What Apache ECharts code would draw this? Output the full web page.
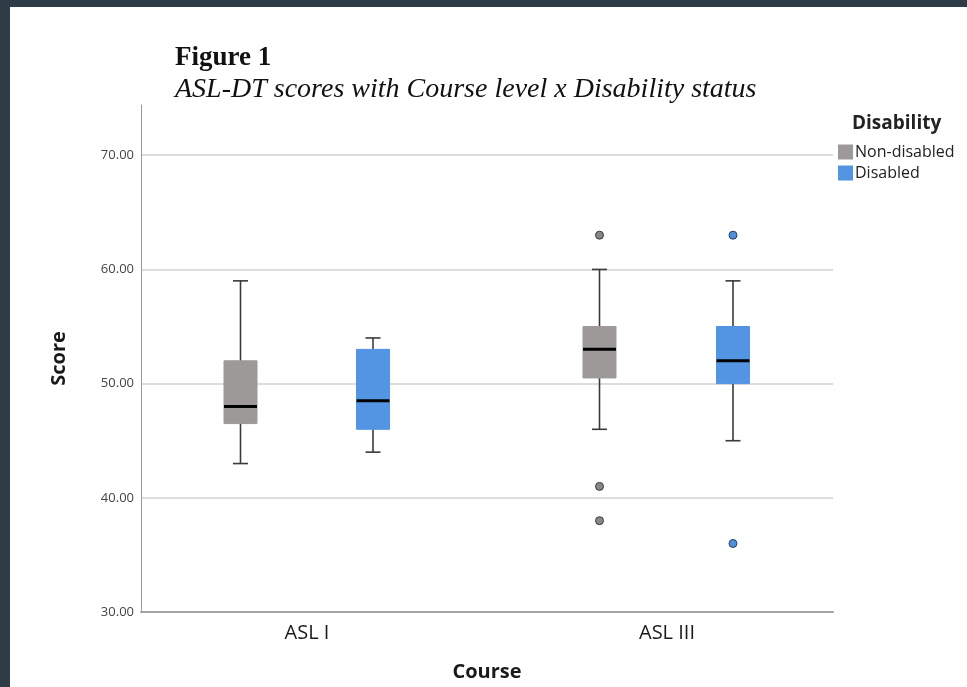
<!DOCTYPE html>
<html><head><meta charset="utf-8">
<script src="https://cdn.jsdelivr.net/npm/echarts@6/dist/echarts.min.js"></script>
<style>html,body{margin:0;padding:0;background:#fff;}#main{width:967px;height:687px;}</style>
</head><body><div id="main"></div>
<script>
// ---- data ----
const courses = ['ASL I', 'ASL III'];
const yTicks = [30, 40, 50, 60, 70];
// [min, Q1, median, Q3, max] per course
const nonDisabledStats = [[43, 46.5, 48, 52, 59], [46, 50.5, 53, 55, 60]];
const disabledStats = [[44, 46, 48.5, 53, 54], [45, 50, 52, 55, 59]];
// outliers: [courseIndex, value]
const nonDisabledOutliers = [[1, 63], [1, 41], [1, 38]];
const disabledOutliers = [[1, 63], [1, 36]];

const GRAY = '#9e9999', BLUE = '#5394e3';
const yMin = 30, yMax = 74.4;
const sans = '"Open Sans", "DejaVu Sans", sans-serif';
const serif = '"Liberation Serif", "Times New Roman", serif';

function boxRender(fill) {
  return function (params, api) {
    const x = api.value(0);
    const lo = api.coord([x, api.value(1)]);
    const q1 = api.coord([x, api.value(2)]);
    const md = api.coord([x, api.value(3)]);
    const q3 = api.coord([x, api.value(4)]);
    const hi = api.coord([x, api.value(5)]);
    const cx = lo[0], hw = 16.5, cw = 7.5;
    const ws = { stroke: '#3a3a3a', lineWidth: 1.6 };
    return { type: 'group', children: [
      { type: 'line', shape: { x1: cx, y1: hi[1], x2: cx, y2: lo[1] }, style: ws },
      { type: 'line', shape: { x1: cx - cw, y1: hi[1], x2: cx + cw, y2: hi[1] }, style: ws },
      { type: 'line', shape: { x1: cx - cw, y1: lo[1], x2: cx + cw, y2: lo[1] }, style: ws },
      { type: 'rect', shape: { x: cx - hw, y: q3[1], width: hw * 2, height: q1[1] - q3[1] }, style: { fill: fill, stroke: fill, lineWidth: 1 } },
      { type: 'line', shape: { x1: cx - hw, y1: md[1], x2: cx + hw, y2: md[1] }, style: { stroke: '#000', lineWidth: 3 } }
    ]};
  };
}
const toRows = stats => stats.map((s, i) => [i].concat(s));

const hiddenY = i => ({ type: 'value', gridIndex: i, min: yMin, max: yMax, show: false, splitLine: { show: false } });
const hiddenX = i => ({ type: 'category', gridIndex: i, data: courses, show: false });

const chart = echarts.init(document.getElementById('main'));
chart.setOption({
  backgroundColor: '#fff',
  animation: false,
  graphic: [
    { type: 'rect', shape: { x: 0, y: 0, width: 967, height: 7 }, style: { fill: '#2e3c47' }, z: 100 },
    { type: 'rect', shape: { x: 0, y: 0, width: 10, height: 687 }, style: { fill: '#2e3c47' }, z: 100 }
  ],
  title: [
    { text: 'Figure 1', left: 175, top: 45, padding: 0, textStyle: { fontFamily: serif, fontWeight: 'bold', fontSize: 27, color: '#111' } },
    { text: 'ASL-DT scores with Course level x Disability status', left: 175, top: 76, padding: 0, textStyle: { fontFamily: serif, fontStyle: 'italic', fontWeight: 'normal', fontSize: 28, color: '#111' } },
    { text: 'Disability', left: 852, top: 114, padding: 0, textStyle: { fontFamily: sans, fontWeight: 'bold', fontSize: 19, color: '#222' } }
  ],
  legend: {
    orient: 'vertical', left: 833, top: 139, itemWidth: 15, itemHeight: 15, itemGap: 5,
    icon: 'rect',
    textStyle: { fontFamily: sans, fontSize: 16, lineHeight: 15, color: '#222', padding: [0, 0, 0, -3] },
    data: [
      { name: 'Non-disabled', itemStyle: { color: GRAY, borderWidth: 0 } },
      { name: 'Disabled', itemStyle: { color: BLUE, borderWidth: 0 } }
    ],
    selectedMode: false
  },
  grid: [
    { left: 141, right: 134, top: 105, bottom: 75 },      // visible axes
    { left: 127, width: 720, top: 105, bottom: 75 },      // category labels
    { left: 61, width: 718, top: 105, bottom: 75 },       // non-disabled
    { left: 193, width: 720, top: 105, bottom: 75 }       // disabled
  ],
  xAxis: [
    { type: 'value', gridIndex: 0, min: 0, max: 1, axisLabel: { show: false }, axisTick: { show: false }, splitLine: { show: false },
      axisLine: { show: true, lineStyle: { color: '#a3a3a3', width: 2 } } },
    { type: 'category', gridIndex: 1, data: courses, axisLine: { show: false }, axisTick: { show: false },
      axisLabel: { fontFamily: sans, fontSize: 20, color: '#1a1a1a', margin: 11 },
      name: 'Course', nameLocation: 'middle', nameGap: 50,
      nameTextStyle: { fontFamily: sans, fontWeight: 'bold', fontSize: 20, color: '#1a1a1a' } },
    hiddenX(2), hiddenX(3)
  ],
  yAxis: [
    { type: 'value', gridIndex: 0, min: yMin, max: yMax, interval: 10,
      axisLine: { show: true, lineStyle: { color: '#9a9a9a', width: 1 } }, axisTick: { show: false },
      axisLabel: { fontFamily: sans, fontSize: 13, color: '#444', margin: 7, showMaxLabel: false,
        formatter: v => yTicks.indexOf(v) >= 0 ? v.toFixed(2) : '' },
      splitLine: { show: true, showMaxLine: false, lineStyle: { color: '#d2d2d2', width: 1.5 } },
      name: 'Score', nameLocation: 'middle', nameGap: 72, nameRotate: 90,
      nameTextStyle: { fontFamily: sans, fontWeight: 'bold', fontSize: 20, color: '#1a1a1a' } },
    hiddenY(1), hiddenY(2), hiddenY(3)
  ],
  series: [
    { name: 'Non-disabled', type: 'custom', xAxisIndex: 2, yAxisIndex: 2, renderItem: boxRender(GRAY),
      itemStyle: { color: GRAY }, encode: { x: 0, y: [1, 2, 3, 4, 5] }, data: toRows(nonDisabledStats), z: 5 },
    { name: 'Disabled', type: 'custom', xAxisIndex: 3, yAxisIndex: 3, renderItem: boxRender(BLUE),
      itemStyle: { color: BLUE }, encode: { x: 0, y: [1, 2, 3, 4, 5] }, data: toRows(disabledStats), z: 5 },
    { name: 'Non-disabled', type: 'scatter', xAxisIndex: 2, yAxisIndex: 2, symbolSize: 8, data: nonDisabledOutliers,
      itemStyle: { color: '#8a8686', borderColor: '#3a3a3a', borderWidth: 1, opacity: 1 }, z: 6 },
    { name: 'Disabled', type: 'scatter', xAxisIndex: 3, yAxisIndex: 3, symbolSize: 8, data: disabledOutliers,
      itemStyle: { color: '#4f8fdc', borderColor: '#2a3f5a', borderWidth: 1, opacity: 1 }, z: 6 }
  ]
});
</script></body></html>
